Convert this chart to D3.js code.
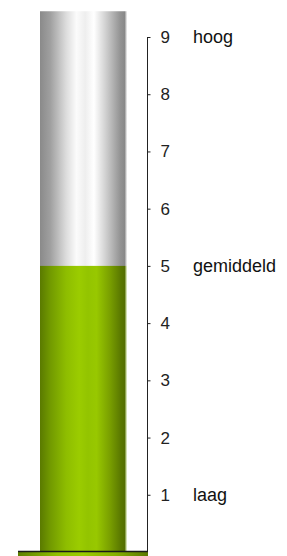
<!DOCTYPE html>
<html>
<head>
<meta charset="utf-8">
<script src="https://cdn.jsdelivr.net/npm/d3@7"></script>
<style>
  body { margin: 0; background: #fff; }
  svg { display: block; }
  text { font-family: "Liberation Sans", Arial, sans-serif; }
</style>
</head>
<body>
<div id="chart"></div>
<script>
// thermometer-like gauge: one value on a 0-9 scale
const categories = ["score"];
const values = [5];
const tubeMax = 9.45;              // the glass tube runs a bit past the top tick
const tickValues = [1, 2, 3, 4, 5, 6, 7, 8, 9];
const sideLabels = [
  { value: 9, label: "hoog" },
  { value: 5, label: "gemiddeld" },
  { value: 1, label: "laag" }
];

const width = 287, height = 556;

const svg = d3.select("#chart").append("svg")
  .attr("width", width)
  .attr("height", height);

const y = d3.scaleLinear().domain([0, 9]).range([552, 37]);
const x = d3.scaleBand().domain(categories).range([40, 127]).padding(0);

// gradients for the glass and the fill
const defs = svg.append("defs");
function hGrad(id, stops) {
  const g = defs.append("linearGradient").attr("id", id)
    .attr("x1", "0%").attr("x2", "100%").attr("y1", "0%").attr("y2", "0%");
  stops.forEach(s => g.append("stop").attr("offset", s[0]).attr("stop-color", s[1]));
}
hGrad("glass", [
  [0, "#8a8a8a"], [0.12, "#a0a0a0"], [0.3, "#dcdcdc"], [0.42, "#fbfbfb"],
  [0.52, "#eeeeee"], [0.62, "#ffffff"], [0.75, "#d2d2d2"], [0.92, "#949494"],
  [0.975, "#888888"], [0.99, "#d8d8d8"], [1, "#e8e8e8"]
]);
hGrad("fill", [
  [0, "#5a7a00"], [0.12, "#729a00"], [0.3, "#8ebd00"], [0.45, "#9bcc00"],
  [0.55, "#93c400"], [0.65, "#98c800"], [0.8, "#7aa000"], [0.93, "#5a7800"],
  [0.975, "#546e00"], [0.99, "#c8d8a0"], [1, "#e0e8c8"]
]);
hGrad("base", [
  [0, "#5e7f00"], [0.3, "#90c000"], [0.5, "#9bcc00"], [0.75, "#86b000"], [1, "#5a7800"]
]);

// glass tube
svg.append("g").selectAll("rect.glass")
  .data(categories)
  .join("rect")
  .attr("class", "glass")
  .attr("x", d => x(d))
  .attr("y", y(tubeMax))
  .attr("width", x.bandwidth())
  .attr("height", y(0) - y(tubeMax))
  .attr("fill", "url(#glass)");

// filled part
svg.append("g").selectAll("rect.level")
  .data(values)
  .join("rect")
  .attr("class", "level")
  .attr("x", (d, i) => x(categories[i]))
  .attr("y", d => y(d))
  .attr("width", x.bandwidth())
  .attr("height", d => y(0) - y(d))
  .attr("fill", "url(#fill)");

// base plate
svg.append("rect")
  .attr("x", 18).attr("y", y(0) - 1)
  .attr("width", 130).attr("height", height - y(0) + 1)
  .attr("fill", "url(#base)");
svg.append("line")
  .attr("x1", 18).attr("x2", 148)
  .attr("y1", y(0) - 0.5).attr("y2", y(0) - 0.5)
  .attr("stroke", "#1a1a1a").attr("stroke-width", 1.5);

// scale on the right
const axis = d3.axisRight(y)
  .tickValues(tickValues)
  .tickSize(3)
  .tickSizeOuter(0)
  .tickPadding(10)
  .tickFormat(d3.format("d"));

const ax = svg.append("g")
  .attr("transform", "translate(147.5,0)")
  .call(axis);
ax.select(".domain").attr("stroke", "#222").attr("d", `M0,${y(9)}V${y(0) - 1}`);
ax.selectAll(".tick line").attr("stroke", "#222");
ax.selectAll(".tick text")
  .attr("font-size", 17)
  .attr("font-family", "Liberation Sans, Arial, sans-serif")
  .attr("fill", "#222");

svg.append("g").selectAll("text.side")
  .data(sideLabels)
  .join("text")
  .attr("class", "side")
  .attr("x", 193)
  .attr("y", d => y(d.value))
  .attr("dy", "0.32em")
  .attr("font-size", 18)
  .attr("fill", "#111")
  .text(d => d.label);
</script>
</body>
</html>
